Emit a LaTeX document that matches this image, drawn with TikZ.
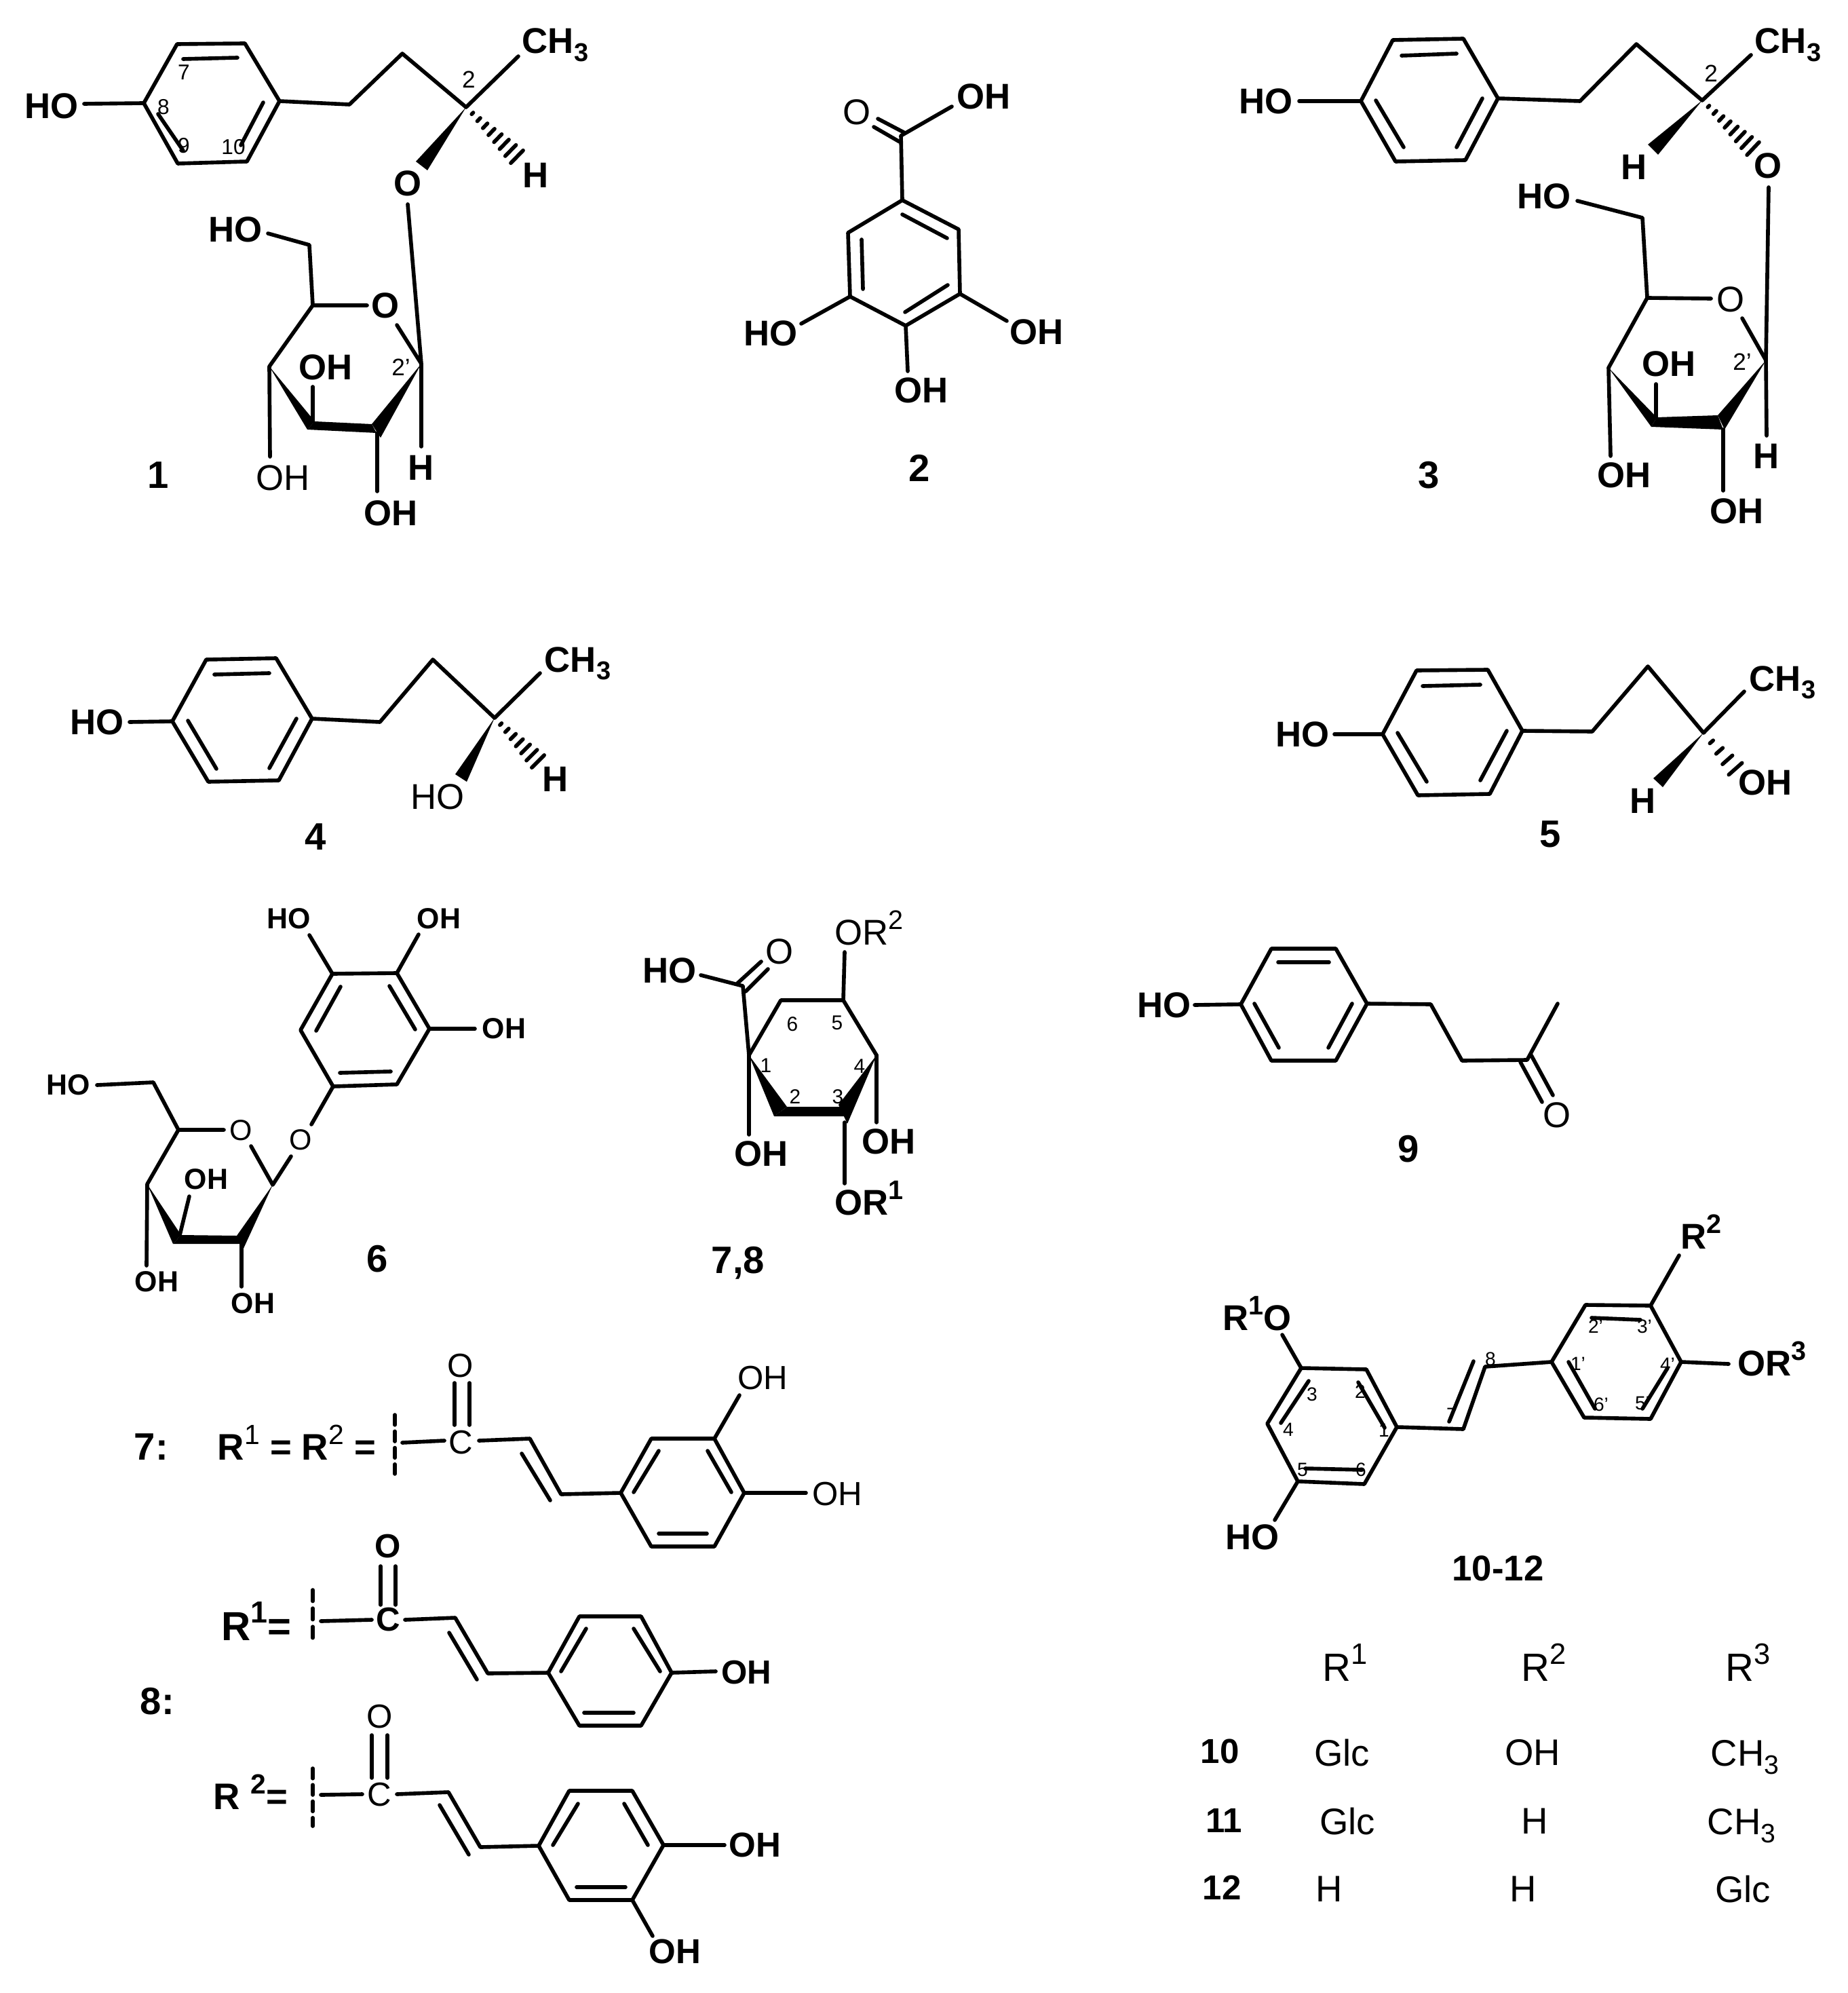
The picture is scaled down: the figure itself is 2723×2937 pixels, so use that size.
\documentclass[tikz,border=0pt]{standalone}
\usepackage{fontspec}
\setmainfont{Liberation Sans}
\tikzset{
	bd/.style={font=\fontsize{#1}{#1}\selectfont\bfseries,inner sep=0pt},bd/.default=15,
	md/.style={font=\fontsize{#1}{#1}\selectfont,inner sep=0pt},md/.default=15,
	lft/.style={anchor=base west},
	cutline/.style={dash pattern=on 4.2pt off 2.7pt}
}
\newcommand{\sups}[1]{\raisebox{.42em}{\scalebox{.75}{#1}}}
\newcommand{\subs}[1]{\raisebox{-.22em}{\scalebox{.72}{#1}}}
\newcommand{\hashbond}[5]{\foreach \hk in {1,...,#5}{\pgfmathsetmacro{\hf}{\hk/#5}\pgfmathsetmacro{\hl}{veclen(#3-#1,#4-#2)}\pgfmathsetmacro{\hx}{-(#4-#2)/\hl*13*\hf}\pgfmathsetmacro{\hy}{(#3-#1)/\hl*13*\hf}\draw({#1+\hf*(#3-#1)+\hx},{#2+\hf*(#4-#2)+\hy})--({#1+\hf*(#3-#1)-\hx},{#2+\hf*(#4-#2)-\hy});}}
\begin{document}
\begin{tikzpicture}[x=.01cm,y=-.01cm,line width=1.6pt,line cap=round,line join=round]
	\useasboundingbox (0,0) rectangle (2723,2937);
	\draw(261,65)--(361,64)--(412,149)--(364,238)--(262,241)--(212,152)--cycle;
	\draw(270,87)--(350,85);
	\draw(233,168)--(270,222);
	\draw(388,151)--(355,214);
	\draw(212,152)--(124,153);
	\draw(412,149)--(515,154)--(593,79)--(687,158)--(764,83);
	\fill(687,158)--(613,238)--(630,251)--cycle;
	\hashbond{687}{158}{762}{231}{8}
	\draw(601,301)--(621,536)--(585,479);
	\draw(541,450)--(461,450)--(456,361)--(395,344);
	\draw(461,450)--(397,540)--(398,673);
	\fill(397,540)--(453,633)--(464,621)--cycle;
	\fill(453,633)--(464,621)--(548,625)--(555,638)--cycle;
	\fill(621,536)--(548,625)--(561,645)--cycle;
	\draw(461,570)--(461,621);
	\draw(556,638)--(556,724);
	\draw(621,536)--(621,658);
	\node[bd](ho1a) at (76,156){HO};
	\node[bd,lft](me1) at (767,79){CH\subs{3}};
	\node[bd](h1a) at (790,258){H};
	\node[bd](o1a) at (601,270){O};
	\node[bd](o1b) at (568,450){O};
	\node[bd](ho1b) at (347,338){HO};
	\node[md](oh1a) at (417,704){OH};
	\node[bd](oh1b) at (480,541){OH};
	\node[bd](oh1c) at (576,756){OH};
	\node[bd](h1b) at (621,689){H};
	\node[bd=16](lab1) at (233,700){1};
	\node[md=9](n1a) at (271,107){7};
	\node[md=9](n1b) at (241,158){8};
	\node[md=9](n1c) at (271,215){9};
	\node[md=9](n1d) at (344,217){10};
	\node[md=10](n1e) at (691,117){2};
	\node[md=10](n1f) at (591,541){2'};

	\draw(1330,295)--(1413,338)--(1415,433)--(1335,480)--(1253,437)--(1250,343)--cycle;
	\draw(1330,316)--(1396,351);
	\draw(1397,420)--(1334,460);
	\draw(1270,353)--(1272,426);
	\draw(1330,295)--(1328,200)--(1403,157);
	\draw(1334,196)--(1294,175);
	\draw(1326,209)--(1288,187);
	\draw(1253,437)--(1181,477);
	\draw(1415,433)--(1484,473);
	\draw(1335,480)--(1338,547);
	\node[md](o2) at (1263,165){O};
	\node[bd](oh2a) at (1450,142){OH};
	\node[bd](ho2) at (1136,491){HO};
	\node[bd](oh2b) at (1528,489){OH};
	\node[bd](oh2c) at (1358,575){OH};
	\node[bd=16](lab2) at (1355,690){2};

	\draw(2053,59)--(2157,57)--(2208,145)--(2160,236)--(2057,238)--(2006,149)--cycle;
	\draw(2066,82)--(2147,79);
	\draw(2028,148)--(2069,217);
	\draw(2185,145)--(2147,217);
	\draw(2006,149)--(1915,149);
	\draw(2208,145)--(2329,149)--(2412,65)--(2509,148)--(2581,81);
	\fill(2509,148)--(2429,213)--(2444,228)--cycle;
	\hashbond{2509}{148}{2584}{219}{8}
	\draw(2607,276)--(2603,531)--(2568,469);
	\draw(2522,440)--(2428,439)--(2421,321)--(2325,296);
	\draw(2428,439)--(2371,542)--(2374,672);
	\fill(2371,542)--(2434,629)--(2442,615)--cycle;
	\fill(2442,615)--(2532,612)--(2540,633)--(2434,629)--cycle;
	\fill(2603,531)--(2532,612)--(2542,633)--cycle;
	\draw(2441,566)--(2441,615);
	\draw(2540,633)--(2540,723);
	\draw(2603,531)--(2604,642);
	\node[bd](ho3a) at (1866,149){HO};
	\node[bd,lft](me3) at (2584,79){CH\subs{3}};
	\node[bd](h3a) at (2409,246){H};
	\node[bd](o3a) at (2606,244){O};
	\node[md](o3b) at (2551,441){O};
	\node[bd](ho3b) at (2276,289){HO};
	\node[bd](oh3a) at (2394,700){OH};
	\node[bd](oh3b) at (2460,536){OH};
	\node[bd](oh3c) at (2560,753){OH};
	\node[bd](h3b) at (2604,672){H};
	\node[bd=16](lab3) at (2106,700){3};
	\node[md=10](n3a) at (2522,108){2};
	\node[md=10](n3b) at (2568,533){2'};

	\draw(304,972)--(407,970)--(460,1059)--(411,1150)--(307,1152)--(254,1063)--cycle;
	\draw(316,994)--(397,992);
	\draw(277,1062)--(319,1133);
	\draw(437,1059)--(397,1132);
	\draw(254,1063)--(191,1064);
	\draw(460,1059)--(560,1064)--(638,972)--(729,1058)--(796,992);
	\fill(729,1058)--(671,1141)--(688,1152)--cycle;
	\hashbond{729}{1058}{793}{1122}{7}
	\node[bd](ho4a) at (143,1064){HO};
	\node[md](ho4b) at (645,1174){HO};
	\node[bd,lft](me4) at (800,990){CH\subs{3}};
	\node[bd](h4) at (819,1148){H};
	\node[bd=16](lab4) at (465,1233){4};

	\draw(2088,988)--(2193,987)--(2244,1077)--(2196,1170)--(2090,1172)--(2038,1082)--cycle;
	\draw(2097,1011)--(2182,1009);
	\draw(2060,1080)--(2103,1152);
	\draw(2221,1077)--(2182,1150);
	\draw(2038,1082)--(1967,1082);
	\draw(2244,1077)--(2347,1078)--(2429,982)--(2511,1080)--(2571,1019);
	\fill(2511,1080)--(2437,1147)--(2451,1160)--cycle;
	\hashbond{2511}{1080}{2558}{1133}{4}
	\node[bd](ho5) at (1920,1082){HO};
	\node[bd,lft](me5) at (2576,1018){CH\subs{3}};
	\node[bd](h5) at (2422,1180){H};
	\node[bd](oh5) at (2602,1153){OH};
	\node[bd=16](lab5) at (2285,1229){5};

	\draw(490,1435)--(585,1434)--(633,1516)--(585,1598)--(491,1601)--(443,1518)--cycle;
	\draw(502,1454)--(466,1519);
	\draw(574,1453)--(612,1517);
	\draw(501,1581)--(576,1579);
	\draw(490,1435)--(456,1378);
	\draw(585,1434)--(617,1377);
	\draw(633,1516)--(700,1516);
	\draw(491,1601)--(459,1657);
	\draw(429,1704)--(402,1746)--(370,1689);
	\draw(330,1665)--(263,1665)--(226,1595)--(143,1599);
	\draw(263,1665)--(217,1745)--(216,1865);
	\fill(217,1745)--(255,1833)--(267,1820)--cycle;
	\fill(267,1820)--(349,1821)--(358,1833)--(255,1833)--cycle;
	\fill(402,1746)--(349,1821)--(357,1844)--cycle;
	\draw(279,1763)--(265,1820);
	\draw(356,1833)--(356,1896);
	\node[bd=12.2](ho6a) at (426,1354){HO};
	\node[bd=12.2](oh6a) at (647,1354){OH};
	\node[bd=12.2](oh6b) at (743,1516){OH};
	\node[md=12.2](o6a) at (443,1680){O};
	\node[md=12.2](o6b) at (355,1666){O};
	\node[bd=12.2](ho6b) at (101,1599){HO};
	\node[bd=12.2](oh6c) at (231,1889){OH};
	\node[bd=12.2](oh6d) at (304,1738){OH};
	\node[bd=12.2](oh6e) at (373,1921){OH};
	\node[bd=16](lab6) at (556,1855){6};

	\draw(1104,1555)--(1151,1474)--(1243,1474)--(1292,1555);
	\fill(1104,1555)--(1141,1645)--(1160,1631)--cycle;
	\fill(1160,1631)--(1238,1631)--(1247,1645)--(1141,1645)--cycle;
	\fill(1292,1555)--(1236,1628)--(1249,1656)--cycle;
	\draw(1104,1555)--(1095,1453)--(1033,1437);
	\draw(1087,1449)--(1122,1417);
	\draw(1099,1461)--(1132,1428);
	\draw(1243,1474)--(1245,1403);
	\draw(1104,1555)--(1104,1672);
	\draw(1292,1555)--(1292,1654);
	\draw(1245,1654)--(1245,1744);
	\node[bd](ho7) at (987,1430){HO};
	\node[md](o7) at (1149,1402){O};
	\node[md,lft](or7a) at (1228,1392){OR\sups{2}};
	\node[bd](oh7a) at (1122,1700){OH};
	\node[bd](oh7b) at (1310,1682){OH};
	\node[bd,lft](or7b) at (1228,1790){OR\sups{1}};
	\node[md=8.5](n7a) at (1129,1570){1};
	\node[md=8.5](n7b) at (1172,1616){2};
	\node[md=8.5](n7c) at (1235,1616){3};
	\node[md=8.5](n7d) at (1267,1571){4};
	\node[md=8.5](n7e) at (1234,1507){5};
	\node[md=8.5](n7f) at (1168,1509){6};
	\node[bd=16](lab78) at (1088,1861){7,8};

	\draw(1874,1398)--(1969,1398)--(2015,1479)--(1969,1563)--(1874,1563)--(1829,1480)--cycle;
	\draw(1884,1418)--(1959,1418);
	\draw(1849,1479)--(1885,1544);
	\draw(1993,1479)--(1958,1544);
	\draw(1829,1480)--(1761,1481);
	\draw(2015,1479)--(2109,1480)--(2155,1563)--(2251,1562)--(2296,1479);
	\draw(2241,1565)--(2273,1624);
	\draw(2257,1555)--(2289,1614);
	\node[bd](ho9) at (1716,1481){HO};
	\node[md](o9) at (2295,1643){O};
	\node[bd=16](lab9) at (2076,1693){9};

	\node[bd=16](lab7) at (223,2132){7:};
	\node[bd=15.5,lft](r7) at (318,2151){R\sups{\mdseries 1} = R\sups{\mdseries 2} =};
	\draw[cutline](582,2085)--(582,2172);
	\draw(593,2126)--(655,2123);
	\draw(670,2038)--(670,2100);
	\draw(692,2038)--(692,2100);
	\draw(706,2123)--(781,2120)--(827,2202)--(915,2200);
	\draw(769,2142)--(811,2211);
	\draw(915,2200)--(960,2120)--(1053,2120)--(1097,2200)--(1053,2279)--(960,2279)--cycle;
	\draw(971,2138)--(934,2199);
	\draw(1043,2138)--(1078,2199);
	\draw(971,2260)--(1042,2260);
	\draw(1053,2120)--(1090,2056);
	\draw(1097,2200)--(1188,2200);
	\node[md=14](c7) at (679,2126){C};
	\node[md=14](o7b) at (679,2013){O};
	\node[md=14](oh7c) at (1124,2031){OH};
	\node[md=14](oh7d) at (1234,2202){OH};

	\node[bd=16](lab8) at (232,2507){8:};
	\node[bd=17,lft](r8a) at (324,2417){R\sups{1}=};
	\draw[dash pattern=on 4.7pt off 3pt](461,2343)--(461,2414);
	\draw(473,2389)--(548,2387);
	\draw(561,2308)--(561,2365);
	\draw(583,2308)--(583,2365);
	\draw(597,2387)--(671,2384)--(719,2466)--(808,2465);
	\draw(662,2406)--(703,2475);
	\draw(808,2465)--(854,2382)--(945,2382)--(990,2465)--(945,2543)--(854,2543)--cycle;
	\draw(864,2400)--(827,2463);
	\draw(934,2400)--(973,2463);
	\draw(861,2524)--(934,2524);
	\draw(990,2465)--(1055,2463);
	\node[bd=14](c8a) at (572,2387){C};
	\node[bd=14](o8a) at (572,2279){O};
	\node[bd=14](oh8a) at (1100,2465){OH};

	\node[bd=15.5,lft](r8b) at (312,2666){R \sups{2}=};
	\draw[cutline](461,2606)--(461,2691);
	\draw(473,2645)--(534,2644);
	\draw(548,2557)--(548,2620);
	\draw(571,2557)--(571,2620);
	\draw(585,2644)--(661,2641)--(708,2722)--(794,2720);
	\draw(648,2660)--(691,2733);
	\draw(794,2720)--(839,2639)--(932,2639)--(978,2719)--(932,2800)--(839,2800)--cycle;
	\draw(852,2658)--(815,2719);
	\draw(920,2658)--(955,2719);
	\draw(850,2781)--(922,2781);
	\draw(978,2719)--(1068,2719);
	\draw(932,2800)--(962,2853);
	\node[md=14](c8b) at (559,2645){C};
	\node[md=14](o8b) at (560,2530){O};
	\node[bd=14.5](oh8b) at (1113,2719){OH};
	\node[bd=14.5](oh8c) at (995,2876){OH};

	\draw(1918,2016)--(2014,2018)--(2059,2103)--(2011,2187)--(1913,2183)--(1868,2098)--cycle;
	\draw(1929,2035)--(1888,2097);
	\draw(2002,2037)--(2041,2104);
	\draw(1924,2164)--(2008,2166);
	\draw(1918,2016)--(1890,1967);
	\draw(1913,2183)--(1879,2240);
	\draw(2059,2103)--(2157,2106)--(2189,2014)--(2287,2007);
	\draw(2136,2095)--(2172,2006);
	\draw(2287,2007)--(2337,1923)--(2433,1924)--(2478,2007)--(2433,2091)--(2335,2089)--cycle;
	\draw(2346,1942)--(2418,1945);
	\draw(2312,2007)--(2351,2076);
	\draw(2458,2016)--(2421,2076);
	\draw(2433,1924)--(2475,1850);
	\draw(2478,2007)--(2548,2010);
	\node[bd,lft](r1o) at (1800,1960){R\sups{1}O};
	\node[bd](ho10) at (1846,2265){HO};
	\node[bd,lft](r2) at (2475,1840){R\sups{2}};
	\node[bd,lft](or3) at (2559,2027){OR\sups{3}};
	\node[md=8](n10a) at (2040,2108){1};
	\node[md=8](n10b) at (2005,2051){2};
	\node[md=8](n10c) at (1934,2055){3};
	\node[md=8](n10d) at (1899,2107){4};
	\node[md=8](n10e) at (1920,2166){5};
	\node[md=8](n10f) at (2006,2166){6};
	\node[md=8](n10g) at (2140,2085){7};
	\node[md=8](n10h) at (2197,2003){8};
	\node[md=8](n10i) at (2326,2010){1'};
	\node[md=8](n10j) at (2352,1955){2'};
	\node[md=8](n10k) at (2424,1955){3'};
	\node[md=8](n10l) at (2458,2011){4'};
	\node[md=8](n10m) at (2421,2068){5'};
	\node[md=8](n10n) at (2360,2070){6'};
	\node[bd](lab10) at (2208,2311){10-12};

	\node[md=16.5,lft](hr1) at (1947,2477){R\sups{1}};
	\node[md=16.5,lft](hr2) at (2240,2477){R\sups{2}};
	\node[md=16.5,lft](hr3) at (2541,2477){R\sups{3}};
	\node[bd=14.5](lab10a) at (1798,2581){10};
	\node[md=15.5](t1a) at (1978,2583){Glc};
	\node[md=15.5](t1b) at (2259,2583){OH};
	\node[md=15.5,lft](t1c) at (2519,2602){CH\subs{3}};
	\node[bd=14.5](lab11) at (1804,2683){11};
	\node[md=15.5](t2a) at (1986,2684){Glc};
	\node[md=15.5](t2b) at (2262,2684){H};
	\node[md=15.5,lft](t2c) at (2514,2703){CH\subs{3}};
	\node[bd=14.5](lab12) at (1801,2782){12};
	\node[md=15.5](t3a) at (1959,2784){H};
	\node[md=15.5](t3b) at (2245,2784){H};
	\node[md=15.5](t3c) at (2569,2784){Glc};
\end{tikzpicture}
\end{document}
